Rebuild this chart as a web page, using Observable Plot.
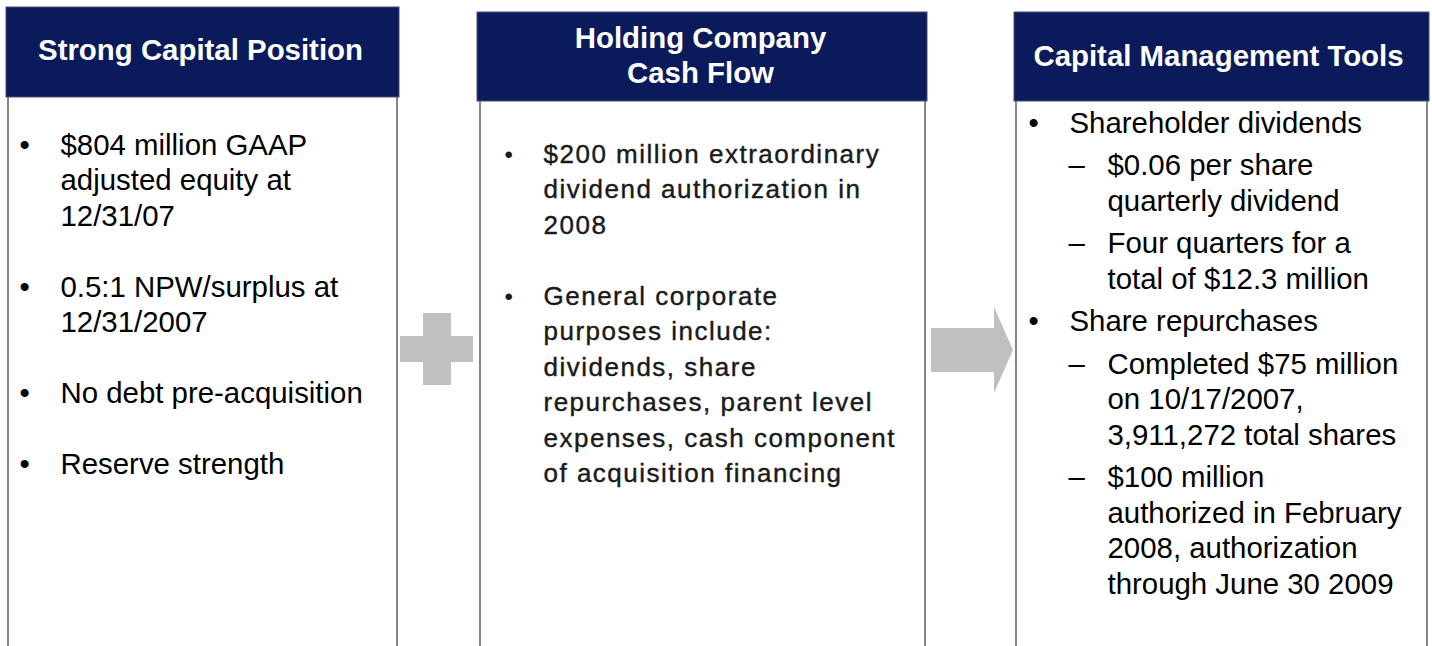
<!DOCTYPE html>
<html>
<head>
<meta charset="utf-8">
<script src="https://cdn.jsdelivr.net/npm/d3@7"></script>
<script src="https://cdn.jsdelivr.net/npm/@observablehq/plot@0.6"></script>
<style>
  html, body { margin: 0; padding: 0; background: #ffffff; overflow: hidden; }
  #chart svg { display: block; overflow: hidden; }
</style>
</head>
<body>
<div id="chart"></div>
<script>
// ---- content (text only) ----
const titles = ["Strong Capital Position", "Holding Company\nCash Flow", "Capital Management Tools"];

const panel1Items = [
  ["$804 million GAAP", "adjusted equity at", "12/31/07"],
  ["0.5:1 NPW/surplus at", "12/31/2007"],
  ["No debt pre-acquisition"],
  ["Reserve strength"]
];

const panel2Items = [
  ["$200 million extraordinary", "dividend authorization in", "2008"],
  ["General corporate", "purposes include:", "dividends, share", "repurchases, parent level", "expenses, cash component", "of acquisition financing"]
];

const panel3Levels = [1, 2, 2, 1, 2, 2];
const panel3Items = [
  ["Shareholder dividends"],
  ["$0.06 per share", "quarterly dividend"],
  ["Four quarters for a", "total of $12.3 million"],
  ["Share repurchases"],
  ["Completed $75 million", "on 10/17/2007,", "3,911,272 total shares"],
  ["$100 million", "authorized in February", "2008, authorization", "through June 30 2009"]
];

// ---- layout (pixel space of the slide) ----
const W = 1432, H = 646;
const navy = "#0b1a5b";
const shapeGray = "#c0c0c0";
const borderGray = "#858585";
const FS = 29.4;

const panels = [
  {hx1: 6, hx2: 399, hy1: 7, hy2: 97, bx1: 8, bx2: 397, tx: 200},
  {hx1: 477, hx2: 927, hy1: 12, hy2: 101, bx1: 480, bx2: 925, tx: 700},
  {hx1: 1014, hx2: 1429, hy1: 12, hy2: 101, bx1: 1016, bx2: 1427, tx: 1218}
];
const titleBaselines = [[59], [47, 82], [65]];

// headers / bodies
const bodies = panels.map(p => ({x1: p.bx1, x2: p.bx2, y1: p.hy2 - 1, y2: H + 20}));
const headers = panels.map(p => ({x1: p.hx1, x2: p.hx2, y1: p.hy1, y2: p.hy2}));
const titleLines = [];
titles.forEach((t, i) => {
  t.split("\n").forEach((line, j) => {
    titleLines.push({x: panels[i].tx, y: titleBaselines[i][j], text: line});
  });
});

// body lines
const pitch = 35.5;
const p1 = [], p1m = [];
{
  let y = 154;
  panel1Items.forEach(item => {
    p1m.push({x: 19, y, text: "•"});
    item.forEach(line => { p1.push({x: 60, y, text: line}); y += pitch; });
    y += pitch;
  });
}
const p2 = [], p2m = [];
{
  let y = 162;
  panel2Items.forEach(item => {
    p2m.push({x: 504, y, text: "•"});
    item.forEach(line => { p2.push({x: 543, y, text: line}); y += pitch; });
    y += pitch;
  });
}
const p3 = [], p3m = [];
{
  let y = 132;
  panel3Items.forEach((item, k) => {
    const lvl = panel3Levels[k];
    p3m.push({x: lvl === 1 ? 1028 : 1068, y, text: lvl === 1 ? "•" : "–"});
    item.forEach(line => { p3.push({x: lvl === 1 ? 1069 : 1107, y, text: line}); y += pitch; });
    y += 7;
  });
}

// connector shapes
const plusBars = [
  {x1: 423, x2: 451, y1: 313, y2: 385},
  {x1: 400, x2: 473, y1: 336, y2: 362}
];
const arrowPts = [
  {x: 931, y1: 328, y2: 372},
  {x: 994, y1: 328, y2: 372},
  {x: 994, y1: 307, y2: 393},
  {x: 1013, y1: 350, y2: 350}
];

const chart = Plot.plot({
  width: W,
  height: H,
  margin: 0,
  x: {type: "linear", domain: [0, W], range: [0, W], axis: null},
  y: {type: "linear", domain: [0, H], range: [0, H], axis: null},
  style: {fontFamily: "'Liberation Sans', Arial, sans-serif", background: "#ffffff", overflow: "hidden"},
  marks: [
    Plot.rect(bodies, {x1: "x1", x2: "x2", y1: "y1", y2: "y2", fill: "#ffffff", stroke: borderGray, strokeWidth: 2}),
    Plot.rect(headers, {x1: "x1", x2: "x2", y1: "y1", y2: "y2", fill: navy, stroke: "#4a5070", strokeWidth: 1}),
    Plot.rect(plusBars, {x1: "x1", x2: "x2", y1: "y1", y2: "y2", fill: shapeGray}),
    Plot.area(arrowPts, {x1: "x", y1: "y1", y2: "y2", fill: shapeGray, curve: "linear"}),
    Plot.text(titleLines, {x: "x", y: "y", text: "text", fill: "#ffffff", fontWeight: "bold", fontSize: FS, textAnchor: "middle", lineAnchor: "bottom"}),
    Plot.text(p1m, {x: "x", y: "y", text: "text", fill: "#000000", fontSize: FS, textAnchor: "start", lineAnchor: "bottom"}),
    Plot.text(p1, {x: "x", y: "y", text: "text", fill: "#000000", fontSize: FS, textAnchor: "start", lineAnchor: "bottom"}),
    Plot.text(p2m, {x: "x", y: "y", text: "text", fill: "#1a1a1a", fontSize: 24, textAnchor: "start", lineAnchor: "bottom"}),
    Plot.text(p2, {x: "x", y: "y", text: "text", fill: "#1a1a1a", stroke: "#1a1a1a", strokeWidth: 0.4, fontSize: 26, textAnchor: "start", lineAnchor: "bottom"}),
    Plot.text(p3m, {x: "x", y: "y", text: "text", fill: "#000000", fontSize: FS, textAnchor: "start", lineAnchor: "bottom"}),
    Plot.text(p3, {x: "x", y: "y", text: "text", fill: "#000000", fontSize: FS, textAnchor: "start", lineAnchor: "bottom"})
  ]
});

d3.select(chart).selectAll('g[font-size="26"]').attr("letter-spacing", 1.5);
document.getElementById("chart").appendChild(chart);
</script>
</body>
</html>
